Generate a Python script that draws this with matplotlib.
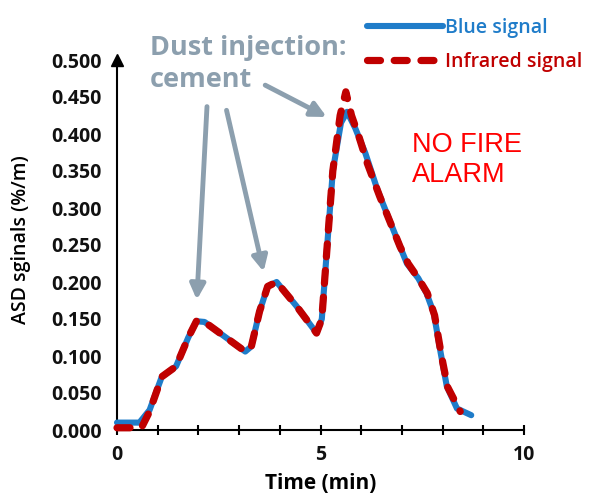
import matplotlib.pyplot as plt
from matplotlib.lines import Line2D

# time (min) and ASD signals (%/m)
t_blue = [0.0, 0.55, 0.8, 1.1, 1.45, 1.75, 1.95, 2.15, 2.6, 3.15, 3.3, 3.5, 3.7, 3.92,
          4.4, 4.9, 5.03, 5.15, 5.3, 5.5, 5.65, 5.85, 6.1, 6.4, 6.95, 7.12, 7.4, 7.6,
          7.78, 7.95, 8.1, 8.35, 8.7]
blue = [0.010, 0.010, 0.027, 0.072, 0.086, 0.125, 0.147, 0.146, 0.128, 0.106, 0.113, 0.160,
        0.194, 0.200, 0.168, 0.131, 0.150, 0.240, 0.350, 0.415, 0.430, 0.408, 0.374, 0.324,
        0.248, 0.225, 0.205, 0.185, 0.158, 0.104, 0.059, 0.029, 0.020]

t_red = [0.0, 0.6, 0.8, 1.1, 1.45, 1.75, 1.95, 2.15, 2.6, 3.15, 3.3, 3.5, 3.7, 3.92,
         4.4, 4.9, 5.03, 5.15, 5.3, 5.48, 5.62, 5.76, 5.95, 6.15, 6.45, 6.95, 7.15, 7.4,
         7.62, 7.8, 7.97, 8.12, 8.43]
red = [0.003, 0.003, 0.025, 0.072, 0.086, 0.125, 0.147, 0.146, 0.128, 0.106, 0.113, 0.160,
       0.194, 0.200, 0.168, 0.131, 0.150, 0.240, 0.350, 0.425, 0.457, 0.425, 0.395, 0.360,
       0.316, 0.248, 0.225, 0.205, 0.185, 0.155, 0.100, 0.058, 0.025]

blue_col = '#1f7cc9'
red_col = '#c00000'
grey = '#8c9fae'

plt.rcParams['font.family'] = ['Open Sans', 'DejaVu Sans']

fig = plt.figure(figsize=(5.97, 5.0), dpi=100)
ax = fig.add_axes([0.196, 0.14, 0.682, 0.74])

ax.plot(t_blue, blue, color=blue_col, lw=4.4, solid_capstyle='round',
        solid_joinstyle='round', clip_on=False, zorder=3)
ax.plot(t_red, red, color=red_col, lw=5.2, dashes=(1.8, 1.9), dash_capstyle='round',
        dash_joinstyle='round', clip_on=False, zorder=4)

ax.set_xlim(0, 10)
ax.set_ylim(0, 0.5)
for s in ['top', 'right']:
    ax.spines[s].set_visible(False)
for s in ['left', 'bottom']:
    ax.spines[s].set_linewidth(1.5)
    ax.spines[s].set_color('black')
ax.plot([0], [1.0], marker='^', color='black', ms=9, transform=ax.transAxes, clip_on=False)

ax.set_xticks([0, 5, 10])
ax.set_xticks(range(0, 11), minor=True)
ax.set_yticks([i * 0.05 for i in range(11)])
ax.set_yticklabels(['%.3f' % (i * 0.05) for i in range(11)])
ax.tick_params(axis='x', which='both', direction='inout', length=7, width=1.5, pad=7)
ax.tick_params(axis='y', length=0, pad=11)
for lab in ax.get_xticklabels() + ax.get_yticklabels():
    lab.set_fontsize(14)
    lab.set_fontweight('bold')
    lab.set_color('#111111')

ax.set_xlabel('Time (min)', fontsize=15, fontweight='bold', labelpad=6)
fig.text(0.036, 0.52, 'ASD sginals (%/m)', rotation=90, ha='center', va='center',
         fontsize=14, fontweight='semibold')

fig.text(0.251, 0.872, 'Dust injection:\ncement', color=grey, fontsize=19.5,
         fontweight='bold', ha='left', va='center', linespacing=1.3)
fig.text(0.69, 0.68, 'NO FIRE\nALARM', color='#ff0000', fontsize=19.5,
         family='Liberation Sans', ha='left', va='center', linespacing=1.15)

arrow = dict(arrowstyle='-|>,head_width=0.45,head_length=0.9', color=grey, lw=3.5,
             shrinkA=0, shrinkB=0)
ax.annotate('', xy=(1.96, 0.176), xytext=(2.21, 0.437), arrowprops=arrow, annotation_clip=False)
ax.annotate('', xy=(3.60, 0.214), xytext=(2.69, 0.432), arrowprops=arrow, annotation_clip=False)
ax.annotate('', xy=(5.15, 0.423), xytext=(3.64, 0.466), arrowprops=arrow, annotation_clip=False)

handles = [Line2D([], [], color=blue_col, lw=4.4, solid_capstyle='round'),
           Line2D([], [], color=red_col, lw=5.2, dashes=(1.8, 1.9), dash_capstyle='round')]
leg = fig.legend(handles, ['Blue signal', 'Infrared signal'], loc='upper right',
                 bbox_to_anchor=(1.005, 1.0), frameon=False, handlelength=3.9,
                 handletextpad=0.1, labelspacing=0.75, prop={'size': 14, 'weight': 'semibold'},
                 labelcolor=[blue_col, red_col])

fig.savefig('out.png', dpi=100)
